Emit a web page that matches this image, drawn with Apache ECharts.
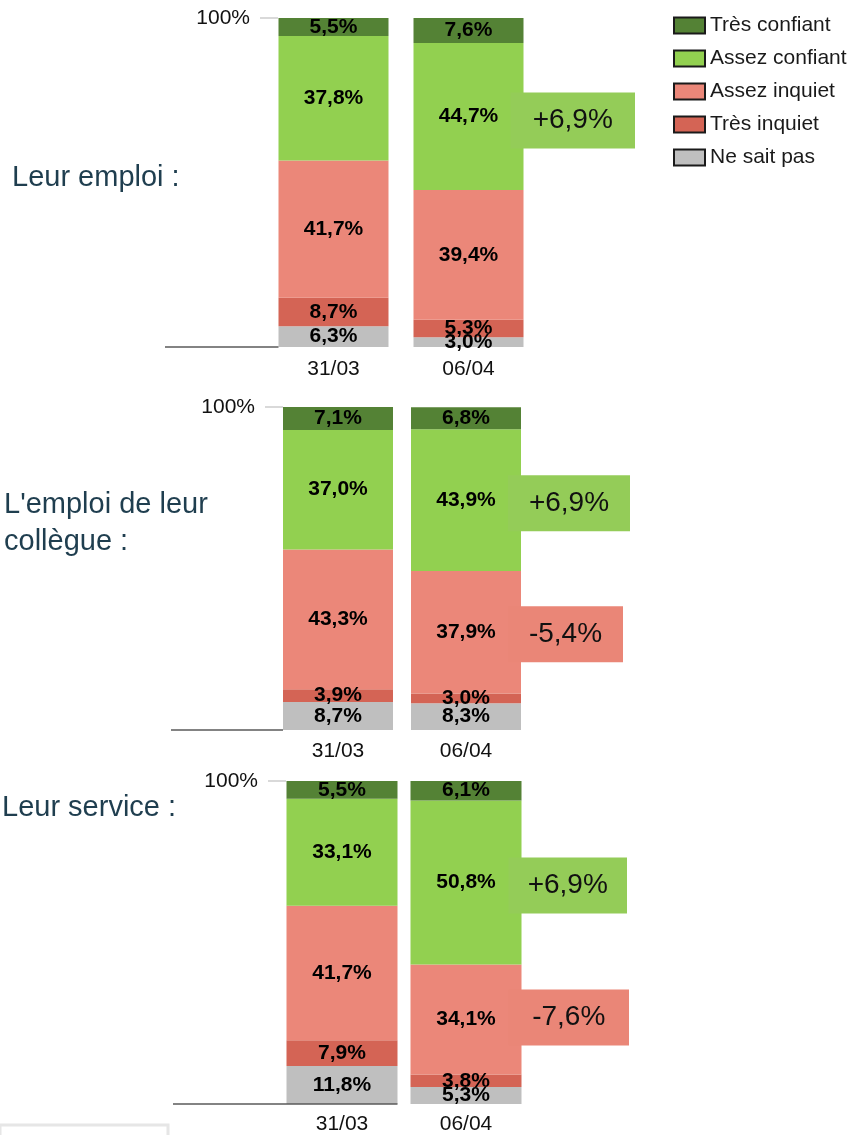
<!DOCTYPE html>
<html>
<head>
<meta charset="utf-8">
<script src="https://cdn.jsdelivr.net/npm/echarts@6/dist/echarts.min.js"></script>
<style>
  html, body { margin: 0; padding: 0; background: #fff; }
  #chart { width: 859px; height: 1135px; }
</style>
</head>
<body>
<div id="chart"></div>
<script>
// categories (dates) and answer names, legend order (top of stack first)
const categories = ['31/03', '06/04'];
const seriesNames = ['Très confiant', 'Assez confiant', 'Assez inquiet', 'Très inquiet', 'Ne sait pas'];
const colors = ['#548235', '#92D050', '#EB8779', '#D46455', '#BFBFBF'];

// values per answer, [31/03, 06/04]
const leurEmploi = [[5.5, 7.6], [37.8, 44.7], [41.7, 39.4], [8.7, 5.3], [6.3, 3.0]];
const emploiCollegue = [[7.1, 6.8], [37.0, 43.9], [43.3, 37.9], [3.9, 3.0], [8.7, 8.3]];
const leurService = [[5.5, 6.1], [33.1, 50.8], [41.7, 34.1], [7.9, 3.8], [11.8, 5.3]];
const panelData = [leurEmploi, emploiCollegue, leurService];

const panelTitles = ['Leur emploi :', "L'emploi de leur\ncollègue :", 'Leur service :'];

// evolution boxes: [answer, text]
const evolEmploi = [['Assez confiant', '+6,9%']];
const evolCollegue = [['Assez confiant', '+6,9%'], ['Assez inquiet', '-5,4%']];
const evolService = [['Assez confiant', '+6,9%'], ['Assez inquiet', '-7,6%']];
const panelEvol = [evolEmploi, evolCollegue, evolService];

// layout of each panel
const layouts = [
  { top: 18, bottom: 347, left: 266, width: 270, barWidth: 110, yOff: -12, xMargin: 12, lineFrom: 165, lineToRight: false, boxRight: [635], boxDy: [4], titleX: 12, titleY: 178 },
  { top: 407, bottom: 730, left: 274, width: 256, barWidth: 110, yOff: -9, xMargin: 11, lineFrom: 171, lineToRight: false, boxRight: [630, 623], boxDy: [3, 2], titleX: 4, titleY: 523 },
  { top: 781, bottom: 1104, left: 280, width: 248, barWidth: 111, yOff: -6, xMargin: 10, lineFrom: 173, lineToRight: true, boxRight: [627, 629], boxDy: [3, -2], titleX: 2, titleY: 808 }
];

const FONT = '"Liberation Sans", Arial, sans-serif';
const fmt = v => v.toFixed(1).replace('.', ',') + '%';

const grids = [], xAxes = [], yAxes = [], series = [];
layouts.forEach((l, g) => {
  grids.push({ left: l.left, width: l.width, top: l.top, height: l.bottom - l.top, outerBoundsMode: 'none', containLabel: false });
  xAxes.push({
    type: 'category', gridIndex: g, data: categories,
    axisLine: { show: false }, axisTick: { show: false },
    axisLabel: { margin: l.xMargin, fontSize: 21, color: '#111', fontFamily: FONT }
  });
  yAxes.push({
    type: 'value', gridIndex: g, min: 0, max: 100, interval: 100, offset: l.yOff,
    axisLine: { show: false }, splitLine: { show: false },
    axisTick: { show: true, length: 18, customValues: [100], lineStyle: { color: '#d9d9d9', width: 2 } },
    axisLabel: { customValues: [100], formatter: '{value}%', margin: 28, fontSize: 21, color: '#111', fontFamily: FONT }
  });
  // stack from bottom (Ne sait pas) to top (Très confiant)
  for (let i = seriesNames.length - 1; i >= 0; i--) {
    series.push({
      name: seriesNames[i], type: 'bar', stack: 'p' + g,
      xAxisIndex: g, yAxisIndex: g, barWidth: l.barWidth,
      itemStyle: { color: colors[i] },
      label: {
        show: true, position: 'inside', formatter: p => fmt(p.value),
        fontSize: 21, fontWeight: 'bold', color: '#000', fontFamily: FONT
      },
      emphasis: { disabled: true },
      data: panelData[g][i]
    });
  }
});

const chart = echarts.init(document.getElementById('chart'));
chart.setOption({
  animation: false,
  legend: {
    orient: 'vertical', left: 673, top: 15, padding: 0,
    itemWidth: 31, itemHeight: 16, itemGap: 12, icon: 'rect',
    itemStyle: { borderColor: '#1a1a1a', borderWidth: 2 },
    textStyle: { fontSize: 21, lineHeight: 20, color: '#1a1a1a', fontFamily: FONT },
    selectedMode: false,
    data: seriesNames
  },
  grid: grids,
  xAxis: xAxes,
  yAxis: yAxes,
  series: series
});

// annotations positioned from the axes
const elems = [];
layouts.forEach((l, g) => {
  const data = panelData[g];
  const base = chart.convertToPixel({ gridIndex: g }, [0, 0]);
  const barLeft = base[0] - l.barWidth / 2;
  elems.push({
    type: 'line', z: 15,
    shape: { x1: l.lineFrom, y1: base[1], x2: l.lineToRight ? barLeft + l.barWidth : barLeft, y2: base[1] },
    style: { stroke: '#5a5a5a', lineWidth: 1.5 }
  });
  elems.push({
    type: 'text', z: 15, x: l.titleX, y: l.titleY,
    style: { text: panelTitles[g], font: '29px ' + FONT, fill: '#1F3E4F', lineHeight: 37, verticalAlign: 'middle', align: 'left' }
  });
  panelEvol[g].forEach((ev, k) => {
    const idx = seriesNames.indexOf(ev[0]);
    let below = 0;
    for (let j = idx + 1; j < seriesNames.length; j++) below += data[j][1];
    const mid = below + data[idx][1] / 2;
    const p = chart.convertToPixel({ gridIndex: g }, [1, mid]);
    const cy = p[1] + l.boxDy[k];
    const left = p[0] + l.barWidth / 2 - 13;
    const w = l.boxRight[k] - left;
    elems.push({
      type: 'rect', z: 20,
      shape: { x: left, y: cy - 28, width: w, height: 56 },
      style: { fill: idx === 1 ? '#94CC58' : '#EA8677' }
    });
    elems.push({
      type: 'text', z: 21, x: left + w / 2, y: cy,
      style: { text: ev[1], font: '28px ' + FONT, fill: '#111', align: 'center', verticalAlign: 'middle' }
    });
  });
});
elems.push({
  type: 'rect', z: 5,
  shape: { x: 0, y: 1125, width: 168, height: 20 },
  style: { fill: 'none', stroke: '#e6e6e6', lineWidth: 3 }
});
chart.setOption({ graphic: elems });
</script>
</body>
</html>
